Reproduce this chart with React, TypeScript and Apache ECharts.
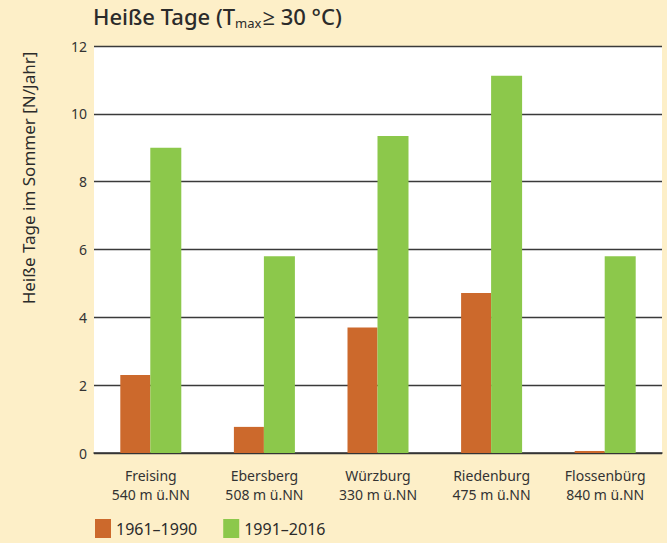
import React, { useEffect, useRef } from "react";
import * as echarts from "echarts";

const categories = [
  "Freising\n540 m ü.NN",
  "Ebersberg\n508 m ü.NN",
  "Würzburg\n330 m ü.NN",
  "Riedenburg\n475 m ü.NN",
  "Flossenbürg\n840 m ü.NN",
];
const series1961 = [2.3, 0.77, 3.7, 4.72, 0.06];
const series1991 = [9.0, 5.8, 9.35, 11.12, 5.8];
const seriesNames = ["1961–1990", "1991–2016"];

const FONT = "'Noto Sans', 'Open Sans', sans-serif";

export default function App() {
  const ref = useRef<HTMLDivElement>(null);
  useEffect(() => {
    if (!ref.current) return;
    document.body.style.margin = "0";
    const chart = echarts.init(ref.current, undefined, { renderer: "svg" });
    chart.setOption({
      animation: false,
      backgroundColor: "#fdefc8",
      textStyle: { fontFamily: FONT },
      grid: {
        left: 94,
        right: 5,
        top: 46,
        bottom: 90,
        show: true,
        backgroundColor: "#ffffff",
        borderWidth: 0,
      },
      graphic: [
        {
          type: "text",
          left: 93,
          top: 5,
          style: {
            text: "{t|Heiße Tage (T}{s|max}{t|≥ 30 °C)}",
            rich: {
              t: { fontSize: 22, fontWeight: 500, fill: "#2b2b2b", fontFamily: FONT },
              s: { fontSize: 13, fill: "#2b2b2b", fontFamily: FONT, padding: [14, 1, 0, 0] },
            },
          },
        },
        {
          type: "text",
          x: 28,
          y: 178,
          rotation: Math.PI / 2,
          style: {
            text: "Heiße Tage im Sommer [N/Jahr]",
            fontSize: 17,
            fill: "#2b2b2b",
            fontFamily: FONT,
            align: "center",
            verticalAlign: "middle",
          },
        },
      ],
      legend: {
        left: 95,
        top: 519,
        padding: 0,
        icon: "rect",
        itemWidth: 16,
        itemHeight: 19,
        itemGap: 26,
        textStyle: {
          fontSize: 16,
          lineHeight: 16,
          color: "#2b2b2b",
          fontFamily: FONT,
        },
        data: seriesNames,
      },
      xAxis: {
        type: "category",
        data: categories,
        axisLine: { lineStyle: { color: "#333", width: 1.5 } },
        axisTick: { show: false },
        axisLabel: {
          color: "#333",
          fontSize: 14,
          lineHeight: 19,
          margin: 13,
          fontFamily: FONT,
        },
      },
      yAxis: {
        type: "value",
        min: 0,
        max: 12,
        interval: 2,
        axisLine: { show: false },
        axisTick: { show: false },
        axisLabel: { color: "#333", fontSize: 14, margin: 7, fontFamily: FONT },
        splitLine: { lineStyle: { color: "#3a3a3a", width: 1.3 } },
      },
      series: [
        {
          name: seriesNames[0],
          type: "bar",
          data: series1961,
          barWidth: 30,
          barGap: "0%",
          itemStyle: { color: "#cc692c" },
        },
        {
          name: seriesNames[1],
          type: "bar",
          data: series1991,
          barWidth: 31,
          barGap: "0%",
          itemStyle: { color: "#8cc84b" },
        },
      ],
    });
    return () => chart.dispose();
  }, []);
  return (
    <div
      ref={ref}
      style={{ width: 667, height: 543, position: "absolute", left: 0, top: 0 }}
    />
  );
}
